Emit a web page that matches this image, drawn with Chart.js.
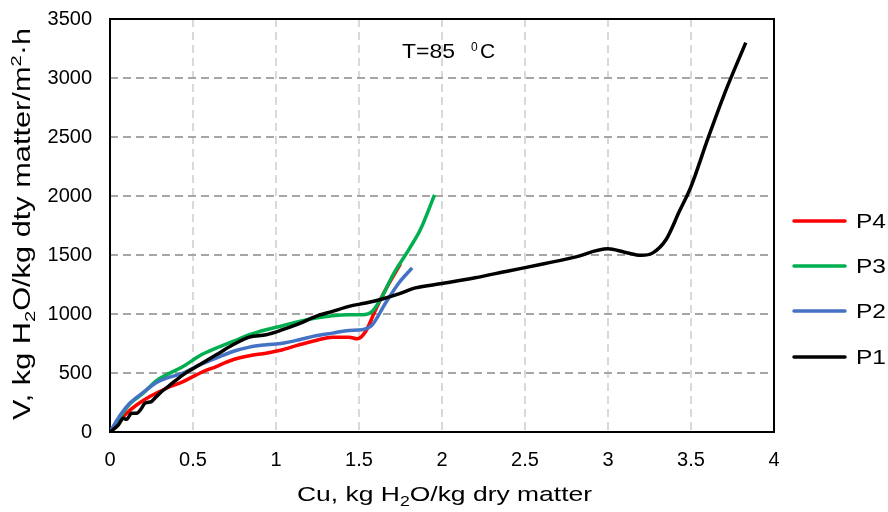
<!DOCTYPE html>
<html>
<head>
<meta charset="utf-8">
<script src="https://cdn.jsdelivr.net/npm/chart.js@4.4.1/dist/chart.umd.min.js"></script>
<style>
  html, body { margin: 0; padding: 0; background: #fff; }
  #wrap { width: 888px; height: 512px; }
</style>
</head>
<body>
<div id="wrap"><canvas id="lineChart" width="888" height="512"></canvas></div>
<script>
// values
var p1X = [0, 0.05, 0.08, 0.10, 0.13, 0.16, 0.19, 0.21, 0.25, 0.27, 0.31, 0.35, 0.44, 0.54, 0.64, 0.74, 0.84, 0.94, 1.04, 1.14, 1.24, 1.34, 1.44, 1.54, 1.64, 1.74, 1.84, 2.0, 2.2, 2.4, 2.6, 2.8, 3.0, 3.1, 3.2, 3.27, 3.35, 3.43, 3.5, 3.6, 3.7, 3.83];
var p1Y = [0, 59, 116, 108, 159, 159, 201, 244, 258, 286, 342, 385, 484, 569, 654, 739, 804, 824, 867, 918, 980, 1022, 1065, 1093, 1127, 1170, 1221, 1258, 1307, 1365, 1421, 1482, 1552, 1524, 1497, 1518, 1631, 1870, 2080, 2480, 2860, 3300];

var p2X = [0, 0.06, 0.12, 0.2, 0.28, 0.34, 0.44, 0.54, 0.64, 0.74, 0.84, 0.94, 1.04, 1.14, 1.24, 1.34, 1.44, 1.52, 1.58, 1.66, 1.74, 1.82];
var p2Y = [0, 140, 245, 335, 419, 456, 498, 569, 626, 682, 719, 739, 753, 782, 816, 838, 861, 867, 909, 1093, 1263, 1391];

var p3X = [0, 0.06, 0.12, 0.2, 0.28, 0.34, 0.44, 0.54, 0.64, 0.74, 0.84, 0.94, 1.04, 1.14, 1.24, 1.34, 1.44, 1.52, 1.58, 1.64, 1.70, 1.80, 1.87, 1.955];
var p3Y = [0, 125, 238, 329, 435, 484, 555, 646, 711, 767, 824, 867, 901, 937, 966, 986, 994, 994, 1022, 1150, 1320, 1546, 1716, 2010];

var p4X = [0, 0.10, 0.16, 0.24, 0.34, 0.44, 0.54, 0.64, 0.74, 0.84, 0.94, 1.04, 1.14, 1.24, 1.34, 1.44, 1.49, 1.54, 1.60, 1.66, 1.75];
var p4Y = [0, 159, 229, 300, 371, 427, 498, 555, 612, 646, 668, 697, 739, 776, 804, 804, 790, 852, 1036, 1206, 1425];

var seriesNames = ['P1', 'P2', 'P3', 'P4'];
var seriesColors = ['#000000', '#4472c4', '#00b050', '#ff0000'];
var legendOrder = ['P4', 'P3', 'P2', 'P1'];

var xTicks = [0, 0.5, 1, 1.5, 2, 2.5, 3, 3.5, 4];
var yTicks = [0, 500, 1000, 1500, 2000, 2500, 3000, 3500];

var FONT = '"Liberation Sans", Arial, sans-serif';

function pts(xs, ys) {
    return xs.map(function (x, i) { return { x: x, y: ys[i] }; });
}

var allData = [pts(p1X, p1Y), pts(p2X, p2Y), pts(p3X, p3Y), pts(p4X, p4Y)];

// text with small sub/superscript parts: [text, mode] with mode '', 'sub', 'sup'
function richWidth(ctx, parts, size) {
    var w = 0;
    parts.forEach(function (p) {
        ctx.font = (p[1] ? Math.round(size * 0.65) : size) + 'px ' + FONT;
        w += ctx.measureText(p[0]).width;
    });
    return w;
}
// draws parts starting at x, stretched so the whole run is `width` wide
function drawRich(ctx, parts, x, y, size, width) {
    var sx = width ? width / richWidth(ctx, parts, size) : 1;
    ctx.save();
    ctx.translate(x, y);
    ctx.scale(sx, 1);
    var cx = 0;
    parts.forEach(function (p) {
        var s = p[1] ? Math.round(size * 0.65) : size;
        ctx.font = s + 'px ' + FONT;
        var dy = p[1] === 'sub' ? size * 0.22 : (p[1] === 'sup' ? -size * 0.38 : 0);
        ctx.fillText(p[0], cx, dy);
        cx += ctx.measureText(p[0]).width;
    });
    ctx.restore();
}

var xTitle = [['Cu, kg H', ''], ['2', 'sub'], ['O/kg dry matter', '']];
var yTitle = [['V, kg H', ''], ['2', 'sub'], ['O/kg dty matter/m', ''], ['2', 'sup'], ['\u00b7h', '']];

var decor = {
    id: 'decor',
    beforeDatasetsDraw: function (chart) {
        var a = chart.chartArea, ctx = chart.ctx;
        ctx.save();
        ctx.strokeStyle = '#000';
        ctx.lineWidth = 2;
        ctx.strokeRect(a.left, a.top, a.right - a.left, a.bottom - a.top);
        ctx.restore();
    },
    afterDraw: function (chart) {
        var ctx = chart.ctx, a = chart.chartArea;
        ctx.save();
        ctx.fillStyle = '#000';
        ctx.textBaseline = 'alphabetic';
        ctx.textAlign = 'left';

        // x title
        drawRich(ctx, xTitle, 297, 501, 21, 295);

        // y title
        ctx.save();
        ctx.translate(30, 420);
        ctx.rotate(-Math.PI / 2);
        drawRich(ctx, yTitle, 0, 0, 23, 392);
        ctx.restore();

        // annotation
        drawRich(ctx, [['T=85', '']], 402, 58, 21, 53);
        ctx.font = '12px ' + FONT;
        ctx.fillText('0', 471, 51);
        ctx.font = '21px ' + FONT;
        ctx.fillText('C', 480, 58);

        // legend
        var rowY = [221, 266, 311, 357];
        legendOrder.forEach(function (name, i) {
            var k = seriesNames.indexOf(name);
            ctx.strokeStyle = seriesColors[k];
            ctx.lineWidth = 3.5;
            ctx.lineCap = 'round';
            ctx.beginPath();
            ctx.moveTo(794, rowY[i]);
            ctx.lineTo(845, rowY[i]);
            ctx.stroke();
            drawRich(ctx, [[name, '']], 856, rowY[i] + 7, 20, 30);
        });
        ctx.restore();
    }
};

var ctx = document.getElementById('lineChart').getContext('2d');
var myChart = new Chart(ctx, {
    type: 'line',
    data: {
        datasets: seriesNames.map(function (n, i) {
            return {
                label: n,
                data: allData[i],
                borderColor: seriesColors[i],
                backgroundColor: seriesColors[i],
                borderWidth: 3.5,
                pointRadius: 0,
                fill: false,
                cubicInterpolationMode: 'monotone'
            };
        })
    },
    options: {
        responsive: false,
        animation: false,
        layout: { padding: { left: 0, top: 19, right: 114, bottom: 0 } },
        plugins: {
            legend: { display: false },
            tooltip: { enabled: false }
        },
        scales: {
            x: {
                type: 'linear',
                min: 0,
                max: 4,
                afterBuildTicks: function (s) { s.ticks = xTicks.map(function (v) { return { value: v }; }); },
                afterFit: function (s) { s.height = 80; s.paddingLeft = 0; s.paddingRight = 0; },
                ticks: {
                    color: '#000',
                    font: { family: FONT, size: 20 },
                    padding: 16,
                    maxRotation: 0,
                    callback: function (v) { return String(v); }
                },
                grid: {
                    color: '#d9d9d9',
                    lineWidth: 2,
                    drawTicks: false
                },
                border: { display: false, dash: [8, 5] }
            },
            y: {
                min: 0,
                max: 3500,
                afterBuildTicks: function (s) { s.ticks = yTicks.map(function (v) { return { value: v }; }); },
                afterFit: function (s) { s.width = 110; s.paddingTop = 0; s.paddingBottom = 0; },
                ticks: {
                    color: '#000',
                    font: { family: FONT, size: 20 },
                    padding: 18,
                    callback: function (v) { return String(v); }
                },
                grid: {
                    color: '#a6a6a6',
                    lineWidth: 2,
                    drawTicks: false
                },
                border: { display: false, dash: [8, 5] }
            }
        }
    },
    plugins: [decor]
});
</script>
</body>
</html>
